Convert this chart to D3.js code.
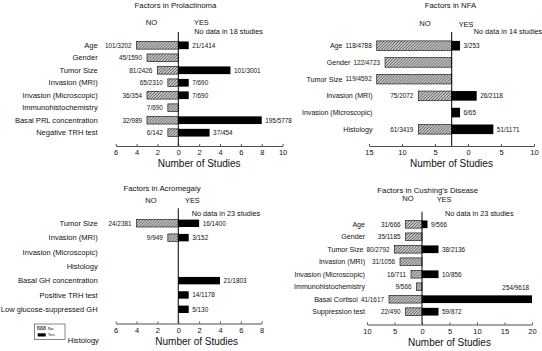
<!DOCTYPE html>
<html>
<head>
<meta charset="utf-8">
<script src="https://cdn.jsdelivr.net/npm/d3@7"></script>
<style>
    body { margin: 0; background: #fff; }
    svg { display: block; font-family: "Liberation Sans", Arial, Helvetica, sans-serif; }
    text { fill: #111; }
</style>
</head>
<body>
<div id="chart"></div>
<script>
// --- data (bar lengths in "number of studies") ---
const prlFactors = ["Age", "Gender", "Tumor Size", "Invasion (MRI)", "Invasion (Microscopic)",
    "Immunohistochemistry", "Basal PRL concentration", "Negative TRH test"];
const prlNo = [4, 3, 2, 1, 3, 1, 3, 1];
const prlYes = [1, 0, 5, 1, 1, 0, 8, 3];
const prlNoLabels = ["101/3202", "45/1590", "81/2426", "65/2310", "36/354", "7/690", "32/989", "6/142"];
const prlYesLabels = ["21/1414", "", "101/3001", "7/690", "7/690", "", "195/5778", "37/454"];

const nfaFactors = ["Age", "Gender", "Tumor Size", "Invasion (MRI)", "Invasion (Microscopic)", "Histology"];
const nfaNo = [9, 8, 9, 4, 0, 4];
const nfaYes = [1, 0, 0, 3, 1, 5];
const nfaNoLabels = ["118/4788", "122/4723", "119/4592", "75/2072", "", "61/3419"];
const nfaYesLabels = ["3/253", "", "", "26/2118", "6/65", "51/1171"];

const acroFactors = ["Tumor Size", "Invasion (MRI)", "Invasion (Microscopic)", "Histology",
    "Basal GH concentration", "Positive TRH test", "Low glucose-suppressed GH"];
const acroNo = [4, 1, 0, 0, 0, 0, 0];
const acroYes = [2, 1, 0, 0, 4, 1, 1];
const acroNoLabels = ["24/2381", "9/949", "", "", "", "", ""];
const acroYesLabels = ["16/1400", "3/152", "", "", "21/1803", "14/1178", "5/130"];

const cushFactors = ["Age", "Gender", "Tumor Size", "Invasion (MRI)", "Invasion (Microscopic)",
    "Immunohistochemistry", "Basal Cortisol", "Suppression test"];
const cushNo = [3, 3, 5, 4, 2, 1, 6, 3];
const cushYes = [1, 0, 3, 0, 3, 0, 20, 3];
const cushNoLabels = ["31/666", "35/1185", "80/2792", "31/1056", "16/711", "9/566", "41/1617", "22/490"];
const cushYesLabels = ["9/566", "", "38/2136", "", "10/856", "", "254/9618", "59/872"];

const prlTicks = [-6, -4, -2, 0, 2, 4, 6, 8, 10];
const nfaTicks = [-15, -10, -5, 0, 5, 10];
const acroTicks = [-6, -4, -2, 0, 2, 4, 6, 8];
const cushTicks = [-10, -5, 0, 5, 10, 15, 20];

const svg = d3.select("#chart").append("svg").attr("width", 542).attr("height", 351);

// hatch used for the "No" bars
const pat = svg.append("defs").append("pattern")
    .attr("id", "hatch")
    .attr("patternUnits", "userSpaceOnUse")
    .attr("width", 2.1).attr("height", 2.1)
    .attr("patternTransform", "rotate(45)");
pat.append("rect").attr("width", 2.1).attr("height", 2.1).attr("fill", "#c4c4c4");
pat.append("line").attr("x1", 0).attr("y1", 0).attr("x2", 0).attr("y2", 2.1)
    .attr("stroke", "#3a3a3a").attr("stroke-width", 1);

class FactorPanel {
    constructor(_config, _data) {
        this.config = _config;
        this.data = _data;
        this.initVis();
    }

    initVis() {
        let vis = this;
        const c = vis.config;
        const g = svg.append("g");

        vis.xAxisScale = d3.scaleLinear().domain(c.axisDomain).range(c.axisRange);
        // the NFA panel draws its bars on a different scale than its axis
        vis.xBar = c.barScale ? d3.scaleLinear().domain(c.barScale.domain).range(c.barScale.range) : vis.xAxisScale;
        vis.yScale = d3.scalePoint().domain(vis.data.factors).range(c.rowRange);

        const x0 = vis.xBar(0);
        const bh = c.barHeight;
        const rows = vis.data.factors.map((f, i) => ({
            factor: f,
            no: vis.data.no[i],
            yes: vis.data.yes[i],
            noLabel: vis.data.noLabels[i],
            yesLabel: vis.data.yesLabels[i],
        }));

        // title and headers
        g.append("text").attr("x", c.title.x).attr("y", c.title.y)
            .attr("text-anchor", "middle").attr("font-size", 7.8).text(c.title.text);
        g.append("text").attr("x", c.noHead.x).attr("y", c.noHead.y)
            .attr("text-anchor", "middle").attr("font-size", 7.6).text("NO");
        g.append("text").attr("x", c.yesHead.x).attr("y", c.yesHead.y)
            .attr("font-size", 7.4).text("YES");
        g.append("text").attr("x", c.noData.x).attr("y", c.noData.y)
            .attr("font-size", 7.3).text(c.noData.text);

        // bars
        g.selectAll(".bar-no").data(rows.filter((d) => d.no > 0)).join("rect")
            .attr("class", "bar-no")
            .attr("x", (d) => vis.xBar(-d.no))
            .attr("y", (d) => vis.yScale(d.factor) - bh / 2)
            .attr("width", (d) => x0 - vis.xBar(-d.no))
            .attr("height", bh)
            .attr("fill", "url(#hatch)")
            .attr("stroke", "#222").attr("stroke-width", 0.7);

        g.selectAll(".bar-yes").data(rows.filter((d) => d.yes > 0)).join("rect")
            .attr("class", "bar-yes")
            .attr("x", x0)
            .attr("y", (d) => vis.yScale(d.factor) - bh / 2)
            .attr("width", (d) => vis.xBar(d.yes) - x0)
            .attr("height", bh)
            .attr("fill", "#000");

        // value labels
        const noText = g.selectAll(".lab-no").data(rows.filter((d) => d.noLabel)).join("text")
            .attr("class", "lab-no")
            .attr("x", (d) => vis.xBar(-d.no) - 5)
            .attr("y", (d) => vis.yScale(d.factor) + 2.3)
            .attr("text-anchor", "end").attr("font-size", 6.4)
            .text((d) => d.noLabel);

        g.selectAll(".lab-yes").data(rows.filter((d) => d.yesLabel)).join("text")
            .attr("class", "lab-yes")
            .attr("font-size", 6.4)
            .text((d) => d.yesLabel)
            .each(function (d) {
                const t = d3.select(this);
                const xEnd = vis.xBar(d.yes);
                const w = this.getComputedTextLength();
                if (xEnd + 3.5 + w > 542) {
                    // no room on the right: put it above the bar end
                    t.attr("x", xEnd - 3).attr("y", vis.yScale(d.factor) - bh / 2 - 5).attr("text-anchor", "end");
                } else {
                    t.attr("x", xEnd + 3.5).attr("y", vis.yScale(d.factor) + 2.3);
                }
            });

        // category labels, nudged left if a value label is in the way
        const noLeft = {};
        noText.each(function (d) { noLeft[d.factor] = this.getBBox().x; });
        g.selectAll(".cat").data(rows).join("text")
            .attr("class", "cat")
            .attr("x", (d) => Math.min(c.catRight, (noLeft[d.factor] ?? 1e9) - 3))
            .attr("y", (d) => vis.yScale(d.factor) + 2.6)
            .attr("text-anchor", "end").attr("font-size", c.catSize)
            .text((d) => d.factor);

        // zero line
        g.append("line")
            .attr("x1", x0).attr("x2", x0)
            .attr("y1", c.zeroTop).attr("y2", c.axisY)
            .attr("stroke", "#000").attr("stroke-width", 1);

        // bottom axis
        const axis = g.append("g")
            .attr("transform", `translate(0,${c.axisY})`)
            .call(d3.axisBottom(vis.xAxisScale).tickValues(c.ticks)
                .tickSizeInner(-2).tickSizeOuter(0).tickPadding(4)
                .tickFormat((d) => Math.abs(d)));
        axis.select(".domain").attr("stroke", "#222").attr("stroke-width", 0.8);
        axis.selectAll(".tick line").attr("stroke", "#222").attr("stroke-width", 0.8);
        axis.selectAll(".tick text").attr("font-size", 7.5).attr("fill", "#111")
            .attr("font-family", "Liberation Sans, Arial, sans-serif");

        g.append("text")
            .attr("x", (c.axisRange[0] + c.axisRange[1]) / 2 + c.labelShift)
            .attr("y", c.axisY + 21)
            .attr("text-anchor", "middle").attr("font-size", 10)
            .text("Number of Studies");
    }
}

new FactorPanel({
    title: { text: "Factors in Prolactinoma", x: 175.5, y: 8.2 },
    noHead: { x: 151.5, y: 24.5 }, yesHead: { x: 194, y: 24.5 },
    noData: { text: "No data in 18 studies", x: 194.3, y: 34.3 },
    axisDomain: [-6, 10], axisRange: [115.7, 282.6], ticks: prlTicks,
    rowRange: [45.3, 132.7], barHeight: 7.7, axisY: 146, zeroTop: 32,
    catRight: 97.7, catSize: 7.55, labelShift: 0,
}, { factors: prlFactors, no: prlNo, yes: prlYes, noLabels: prlNoLabels, yesLabels: prlYesLabels });

new FactorPanel({
    title: { text: "Factors in NFA", x: 450.5, y: 8.2 },
    noHead: { x: 425, y: 25.5 }, yesHead: { x: 458.7, y: 26.5 },
    noData: { text: "No data in 14 studies", x: 473.7, y: 33.5 },
    axisDomain: [-15, 10], axisRange: [369, 534], ticks: nfaTicks,
    barScale: { domain: [-9, 6], range: [376.7, 501.7] },
    rowRange: [45.7, 129.3], barHeight: 9.6, axisY: 146, zeroTop: 32,
    catRight: 372.5, catSize: 7.1, labelShift: 0,
}, { factors: nfaFactors, no: nfaNo, yes: nfaYes, noLabels: nfaNoLabels, yesLabels: nfaYesLabels });

new FactorPanel({
    title: { text: "Factors in Acromegaly", x: 162, y: 191 },
    noHead: { x: 151, y: 202.7 }, yesHead: { x: 185, y: 202.7 },
    noData: { text: "No data in 23 studies", x: 191.7, y: 215.5 },
    axisDomain: [-6, 8], axisRange: [115.7, 261.7], ticks: acroTicks,
    rowRange: [223.3, 309.3], barHeight: 7.4, axisY: 323.5, zeroTop: 208.3,
    catRight: 97.7, catSize: 7.55, labelShift: 8,
}, { factors: acroFactors, no: acroNo, yes: acroYes, noLabels: acroNoLabels, yesLabels: acroYesLabels });

new FactorPanel({
    title: { text: "Factors in Cushing's Disease", x: 427.7, y: 192.5 },
    noHead: { x: 408, y: 200.5 }, yesHead: { x: 436.7, y: 201.5 },
    noData: { text: "No data in 23 studies", x: 445, y: 216 },
    axisDomain: [-10, 20], axisRange: [367, 532], ticks: cushTicks,
    rowRange: [224.3, 311.7], barHeight: 7.7, axisY: 324.5, zeroTop: 211.7,
    catRight: 365, catSize: 7.1, labelShift: 0,
}, { factors: cushFactors, no: cushNo, yes: cushYes, noLabels: cushNoLabels, yesLabels: cushYesLabels });

// legend (bottom left)
const legend = svg.append("g");
legend.append("rect").attr("x", 34.3).attr("y", 324).attr("width", 30.7).attr("height", 15.5)
    .attr("fill", "#fff").attr("stroke", "#333").attr("stroke-width", 0.6);
legend.append("rect").attr("x", 37.7).attr("y", 326.6).attr("width", 8).attr("height", 3)
    .attr("fill", "url(#hatch)").attr("stroke", "#222").attr("stroke-width", 0.4);
legend.append("rect").attr("x", 37.7).attr("y", 333.3).attr("width", 8).attr("height", 3.2).attr("fill", "#000");
legend.append("text").attr("x", 47.8).attr("y", 329.6).attr("font-size", 4.4).text("No");
legend.append("text").attr("x", 47.8).attr("y", 336.4).attr("font-size", 4.4).text("Yes");
legend.append("text").attr("x", 67.7).attr("y", 342.6).attr("font-size", 7.6).text("Histology");
</script>
</body>
</html>
